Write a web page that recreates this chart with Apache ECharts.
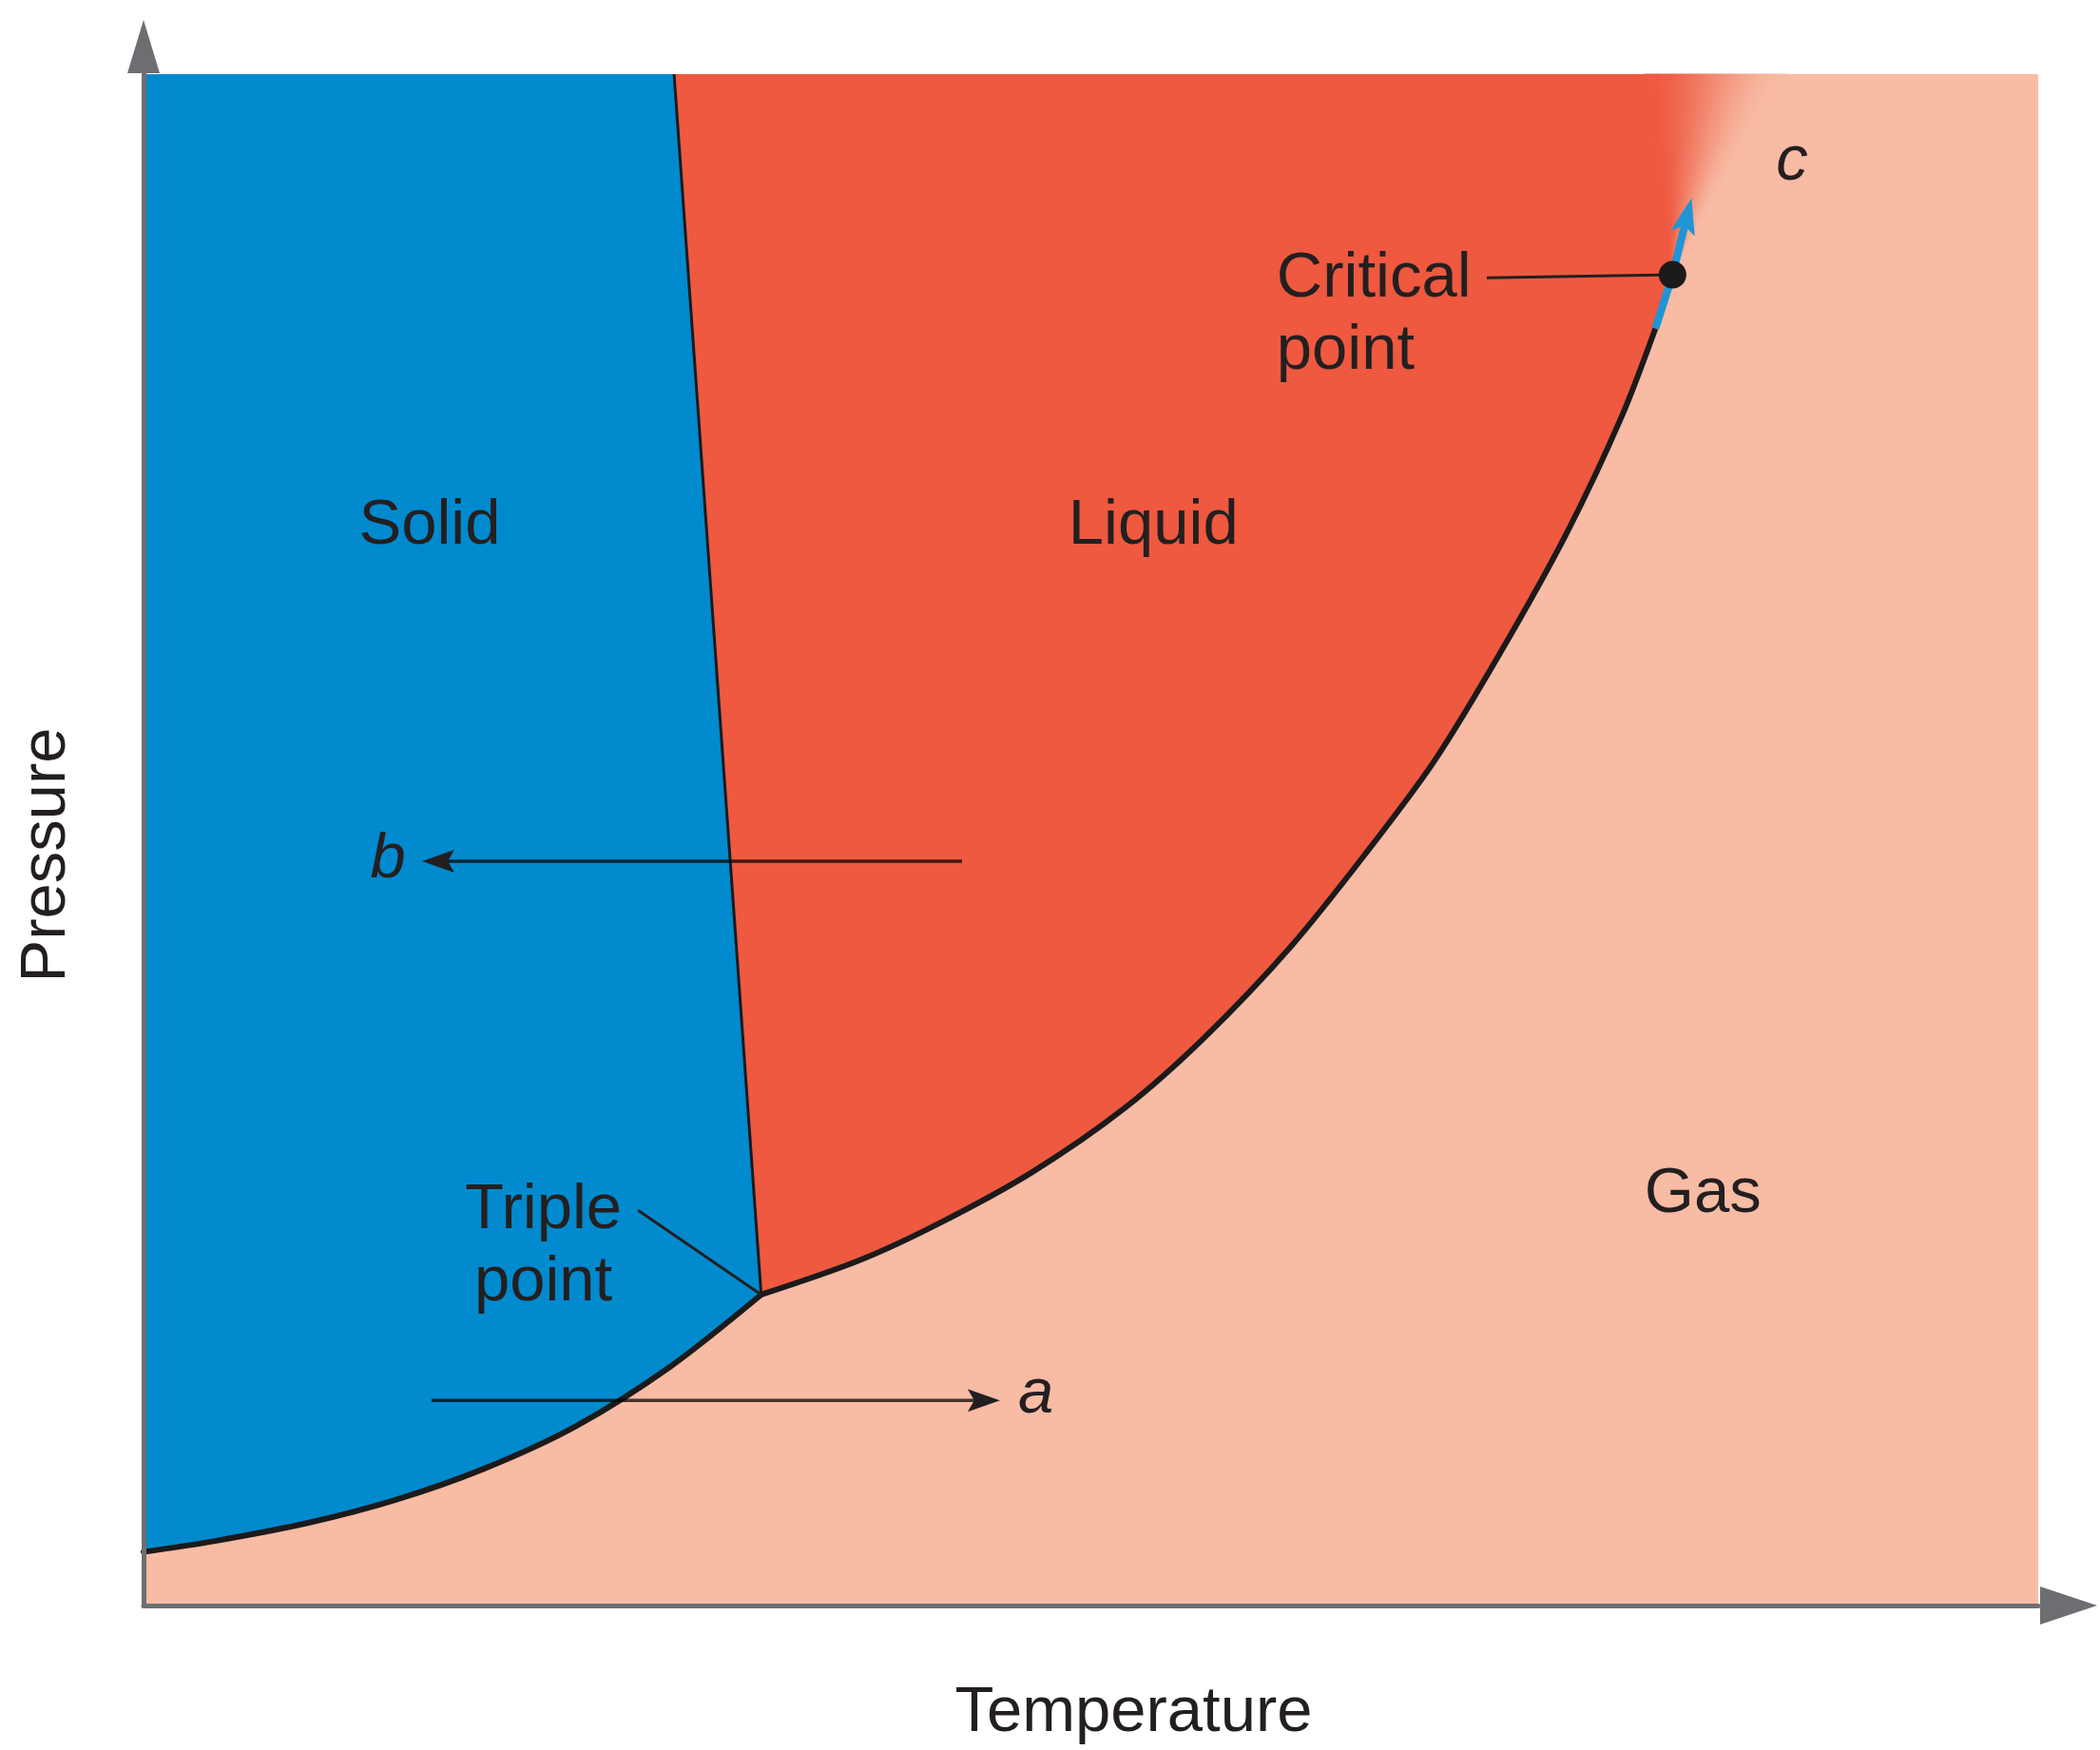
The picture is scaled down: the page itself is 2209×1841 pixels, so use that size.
<!DOCTYPE html>
<html>
<head>
<meta charset="utf-8">
<title>Phase diagram</title>
<script src="https://cdn.jsdelivr.net/npm/echarts@6/dist/echarts.min.js"></script>
<style>
  html, body { margin: 0; padding: 0; background: #fff; }
  #main { width: 2209px; height: 1841px; }
</style>
</head>
<body>
<div id="main"></div>
<script>
// phase boundaries, in axis units (0..100 on both axes)
var sublimationCurve = [[0, 3.5], [3.7, 4.2], [8.7, 5.4], [13.3, 6.9], [17.9, 8.9], [22.8, 11.7], [27.8, 15.6], [32.6, 20.3]];
var vaporizationCurve = [[32.6, 20.3], [37.7, 22.5], [41.9, 24.9], [46.9, 28.3], [51.8, 32.5], [56.0, 37.1], [60.6, 43.1], [64.5, 49.1], [68.1, 55.1], [71.6, 62.2], [75.1, 70.0], [78.0, 77.6], [79.8, 83.4]];
var supercriticalPath = [[79.8, 83.4], [80.7, 86.9], [81.7, 91.9]];
var meltingLine = [[32.6, 20.3], [28.0, 100]];
var triplePoint = [32.6, 20.3];
var criticalPoint = [80.7, 86.9];
var fadeEdge = [[79.2, 100], [86.8, 100]];

// labels
var regionLabels = [
  { name: 'Solid', value: [15.1, 70.5] },
  { name: 'Liquid', value: [53.3, 70.5] },
  { name: 'Gas', value: [82.3, 26.85] }
];
var pathLabels = [
  { name: 'a', value: [47.1, 13.75] },
  { name: 'b', value: [12.9, 48.7] },
  { name: 'c', value: [87.0, 94.25] }
];
var noteLabels = [
  { name: 'Critical\npoint', value: [59.8, 84.25], anchor: 'left' },
  { name: 'Triple\npoint', value: [21.1, 23.4], anchor: 'center' }
];
var leaderLines = [
  [[70.9, 86.7], criticalPoint],
  [[26.1, 25.8], triplePoint]
];
var pathArrows = [
  { from: [15.2, 13.4], to: [45.2, 13.4] },
  { from: [43.2, 48.6], to: [14.7, 48.6] }
];

var BLUE = '#028ace', RED = '#ee5940', PEACH = '#f8bba4', INK = '#231f20';
var FONT = '"Liberation Sans", Arial, Helvetica, sans-serif';

function toPx(api, pts) {
  return pts.map(function (p) { return api.coord(p); });
}

function mix(a, b, t) {
  var ca = echarts.color.parse(a), cb = echarts.color.parse(b);
  var r = [0, 1, 2].map(function (i) { return Math.round(ca[i] + (cb[i] - ca[i]) * t); });
  return 'rgb(' + r.join(',') + ')';
}

function arrowHead(tip, from, len, half, notch, color) {
  var dx = tip[0] - from[0], dy = tip[1] - from[1];
  var d = Math.sqrt(dx * dx + dy * dy);
  var ux = dx / d, uy = dy / d, nx = -uy, ny = ux;
  var bx = tip[0] - ux * len, by = tip[1] - uy * len;
  return {
    type: 'polygon',
    shape: { points: [tip, [bx + nx * half, by + ny * half], [tip[0] - ux * (len - notch), tip[1] - uy * (len - notch)], [bx - nx * half, by - ny * half]] },
    style: { fill: color }
  };
}

function shortenTo(from, tip, by) {
  var dx = tip[0] - from[0], dy = tip[1] - from[1];
  var d = Math.sqrt(dx * dx + dy * dy);
  return [tip[0] - dx / d * by, tip[1] - dy / d * by];
}

function custom(z, render) {
  return { type: 'custom', coordinateSystem: 'cartesian2d', z: z, silent: true, clip: false, data: [[0, 0]], renderItem: render };
}

var chart = echarts.init(document.getElementById('main'));

var option = {
  animation: false,
  backgroundColor: '#ffffff',
  grid: { left: 151, right: 65, top: 78, bottom: 151, show: true, backgroundColor: PEACH, borderWidth: 0 },
  xAxis: {
    type: 'value', min: 0, max: 100, z: 10,
    name: 'Temperature', nameLocation: 'middle', nameGap: 80,
    nameTextStyle: { fontFamily: FONT, fontSize: 67, color: INK, padding: [0, 0, 0, 90] },
    axisLine: { show: true, onZero: false, lineStyle: { color: '#6d6e71', width: 5 }, symbol: ['none', 'triangle'], symbolSize: [40, 60], symbolOffset: [0, 32] },
    axisTick: { show: false }, axisLabel: { show: false }, splitLine: { show: false }
  },
  yAxis: {
    type: 'value', min: 0, max: 100, z: 10,
    name: 'Pressure', nameLocation: 'middle', nameGap: 68,
    nameTextStyle: { fontFamily: FONT, fontSize: 67, color: INK, padding: [0, 32, 0, 0] },
    axisLine: { show: true, onZero: false, lineStyle: { color: '#6d6e71', width: 5 }, symbol: ['none', 'triangle'], symbolSize: [34, 56], symbolOffset: [0, 29] },
    axisTick: { show: false }, axisLabel: { show: false }, splitLine: { show: false }
  },
  series: [
    // solid region
    custom(2, function (params, api) {
      var pts = sublimationCurve.concat([meltingLine[1], [0, 100]]);
      return { type: 'polygon', shape: { points: toPx(api, pts) }, style: { fill: BLUE } };
    }),
    // liquid region
    custom(2, function (params, api) {
      var pts = vaporizationCurve.concat([criticalPoint, fadeEdge[0], meltingLine[1]]);
      return { type: 'polygon', shape: { points: toPx(api, pts) }, style: { fill: RED } };
    }),
    // liquid fading into gas above the critical point
    custom(3, function (params, api) {
      var c = api.coord(criticalPoint), l = api.coord(fadeEdge[0]), r = api.coord(fadeEdge[1]);
      var n = 48, kids = [];
      for (var i = 0; i < n; i++) {
        var t0 = i / n, t1 = (i + 1) / n, tm = (i + 0.5) / n;
        var e = tm * tm * (3 - 2 * tm);
        var col = mix(RED, PEACH, e);
        kids.push({
          type: 'polygon',
          shape: { points: [c, [l[0] + (r[0] - l[0]) * t0, l[1]], [l[0] + (r[0] - l[0]) * t1, l[1]]] },
          style: { fill: col, stroke: col, lineWidth: 1 }
        });
      }
      return { type: 'group', children: kids };
    }),
    // boundaries
    custom(4, function (params, api) {
      return {
        type: 'group',
        children: [
          { type: 'polyline', shape: { points: toPx(api, meltingLine) }, style: { stroke: '#1c1a1b', lineWidth: 3, fill: 'none' } },
          { type: 'polyline', shape: { points: toPx(api, sublimationCurve), smooth: 0.3 }, style: { stroke: '#1c1a1b', lineWidth: 6, fill: 'none', lineJoin: 'round', lineCap: 'round' } },
          { type: 'polyline', shape: { points: toPx(api, vaporizationCurve), smooth: 0.3 }, style: { stroke: '#1c1a1b', lineWidth: 6, fill: 'none', lineJoin: 'round', lineCap: 'butt' } }
        ]
      };
    }),
    // supercritical blue arrow
    custom(5, function (params, api) {
      var pts = toPx(api, supercriticalPath);
      var tip = pts[pts.length - 1], prev = pts[pts.length - 2];
      var line = pts.slice(0, -1).concat([shortenTo(prev, tip, 26)]);
      return {
        type: 'group',
        children: [
          { type: 'polyline', shape: { points: line }, style: { stroke: '#1f95d5', lineWidth: 8, fill: 'none' } },
          arrowHead(tip, prev, 38, 13, 8, '#1f95d5')
        ]
      };
    }),
    // paths a and b
    custom(6, function (params, api) {
      var kids = [];
      pathArrows.forEach(function (a) {
        var f = api.coord(a.from), t = api.coord(a.to);
        var end = shortenTo(f, t, 26);
        kids.push({ type: 'line', shape: { x1: f[0], y1: f[1], x2: end[0], y2: end[1] }, style: { stroke: 'rgba(0,0,0,0.72)', lineWidth: 3.5 } });
        kids.push(arrowHead(t, f, 34, 12, 7, '#231f20'));
      });
      return { type: 'group', children: kids };
    }),
    // leader lines and critical point dot
    custom(7, function (params, api) {
      var kids = leaderLines.map(function (seg) {
        var p = toPx(api, seg);
        return { type: 'line', shape: { x1: p[0][0], y1: p[0][1], x2: p[1][0], y2: p[1][1] }, style: { stroke: '#231f20', lineWidth: 3 } };
      });
      var c = api.coord(criticalPoint);
      kids.push({ type: 'circle', shape: { cx: c[0], cy: c[1], r: 14.5 }, style: { fill: '#1c1a1b' } });
      return { type: 'group', children: kids };
    }),
    // texts
    custom(8, function (params, api) {
      var kids = [];
      regionLabels.forEach(function (d) {
        var p = api.coord(d.value);
        kids.push({ type: 'text', x: p[0], y: p[1], style: { text: d.name, fill: INK, fontFamily: FONT, fontSize: 67, align: 'center', verticalAlign: 'middle' } });
      });
      pathLabels.forEach(function (d) {
        var p = api.coord(d.value);
        kids.push({ type: 'text', x: p[0], y: p[1], style: { text: d.name, fill: INK, fontFamily: FONT, fontSize: 67, fontStyle: 'italic', align: 'center', verticalAlign: 'middle' } });
      });
      noteLabels.forEach(function (d) {
        var p = api.coord(d.value);
        kids.push({ type: 'text', x: p[0], y: p[1], style: { text: d.name, fill: INK, fontFamily: FONT, fontSize: 67, lineHeight: 76, align: d.anchor, verticalAlign: 'middle' } });
      });
      return { type: 'group', children: kids };
    })
  ]
};

chart.setOption(option);
</script>
</body>
</html>
